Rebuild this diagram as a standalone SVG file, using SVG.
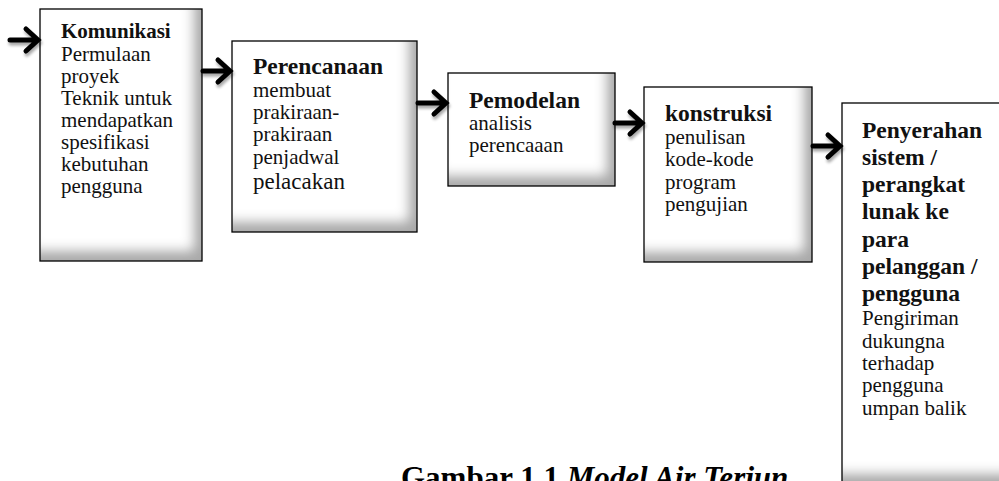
<svg xmlns="http://www.w3.org/2000/svg" width="999" height="481" viewBox="0 0 999 481">
<style>
.box{fill:#fff}
.edge{fill:none;stroke:#000;stroke-width:1.3}
.t{font-family:"Liberation Serif","Times New Roman",serif;font-size:21px;fill:#111}
.h{font-weight:bold;font-size:23.5px}
.h1{font-weight:bold;font-size:21px}
.arr{fill:none;stroke:#000;stroke-width:5;stroke-linecap:round;stroke-linejoin:miter}
.cap{font-family:"Liberation Serif","Times New Roman",serif;font-size:31px;font-weight:bold;fill:#000}
</style>
<defs>
<filter id="inner" x="-0.3" y="-0.3" width="1.6" height="1.6">
<feOffset in="SourceAlpha" dx="-9" dy="-11" result="o"/>
<feGaussianBlur in="o" stdDeviation="6" result="b"/>
<feComposite in="SourceAlpha" in2="b" operator="out" result="s"/>
<feFlood flood-color="#000" flood-opacity="0.6"/>
<feComposite in2="s" operator="in" result="sh"/>
<feMerge><feMergeNode in="SourceGraphic"/><feMergeNode in="sh"/></feMerge>
</filter>
<filter id="ds" x="-0.3" y="-0.5" width="1.6" height="2">
<feGaussianBlur in="SourceAlpha" stdDeviation="1.5"/>
<feOffset dx="1" dy="3" result="b"/>
<feComponentTransfer><feFuncA type="linear" slope="0.35"/></feComponentTransfer>
<feMerge><feMergeNode/><feMergeNode in="SourceGraphic"/></feMerge>
</filter>
</defs>

<g id="komunikasi">
<rect class="box" x="40" y="9" width="162" height="252" filter="url(#inner)"/>
<rect class="edge" x="40" y="9" width="162" height="252"/>
<text class="t h1" x="61" y="38">Komunikasi</text>
<text class="t" x="61" y="61">Permulaan</text>
<text class="t" x="61" y="83">proyek</text>
<text class="t" x="61" y="105">Teknik untuk</text>
<text class="t" x="61" y="127">mendapatkan</text>
<text class="t" x="61" y="149">spesifikasi</text>
<text class="t" x="61" y="171">kebutuhan</text>
<text class="t" x="61" y="193">pengguna</text>
</g>

<g id="perencanaan">
<rect class="box" x="232" y="41" width="185" height="191" filter="url(#inner)"/>
<rect class="edge" x="232" y="41" width="185" height="191"/>
<text class="t h" x="253" y="74">Perencanaan</text>
<text class="t" x="253" y="97">membuat</text>
<text class="t" x="253" y="119">prakiraan-</text>
<text class="t" x="253" y="141">prakiraan</text>
<text class="t" x="253" y="164">penjadwal</text>
<text class="t" x="253" y="189" style="font-size:23px">pelacakan</text>
</g>

<g id="pemodelan">
<rect class="box" x="448" y="73" width="167" height="113" filter="url(#inner)"/>
<rect class="edge" x="448" y="73" width="167" height="113"/>
<text class="t h" x="469" y="108">Pemodelan</text>
<text class="t" x="469" y="130">analisis</text>
<text class="t" x="469" y="152">perencaaan</text>
</g>

<g id="konstruksi">
<rect class="box" x="644" y="87" width="168" height="175" filter="url(#inner)"/>
<rect class="edge" x="644" y="87" width="168" height="175"/>
<text class="t h" x="665" y="121">konstruksi</text>
<text class="t" x="665" y="144">penulisan</text>
<text class="t" x="665" y="166">kode-kode</text>
<text class="t" x="665" y="189">program</text>
<text class="t" x="665" y="211">pengujian</text>
</g>

<g id="penyerahan">
<rect class="box" x="842" y="103" width="180" height="381" filter="url(#inner)"/>
<rect class="edge" x="842" y="103" width="180" height="381"/>
<text class="t h" x="862" y="138">Penyerahan</text>
<text class="t h" x="862" y="165">sistem /</text>
<text class="t h" x="862" y="192">perangkat</text>
<text class="t h" x="862" y="219">lunak ke</text>
<text class="t h" x="862" y="247">para</text>
<text class="t h" x="862" y="274">pelanggan /</text>
<text class="t h" x="862" y="301">pengguna</text>
<text class="t" x="862" y="325">Pengiriman</text>
<text class="t" x="862" y="348">dukungna</text>
<text class="t" x="862" y="370">terhadap</text>
<text class="t" x="862" y="392">pengguna</text>
<text class="t" x="862" y="415">umpan balik</text>
</g>

<g id="connectors" filter="url(#ds)">
<path class="arr" d="M10 40 H36 M26 29 L38 40 L26 51"/>
<path class="arr" d="M203 71 H228 M218 60 L230 71 L218 82"/>
<path class="arr" d="M418 103 H444 M434 92 L446 103 L434 114"/>
<path class="arr" d="M615 123 H640 M630 112 L642 123 L630 134"/>
<path class="arr" d="M813 146 H838 M828 135 L840 146 L828 157"/>
</g>

<g id="caption">
<text class="cap" x="401" y="488">Gambar 1.1 <tspan font-style="italic">Model Air Terjun</tspan></text>
</g>
</svg>
